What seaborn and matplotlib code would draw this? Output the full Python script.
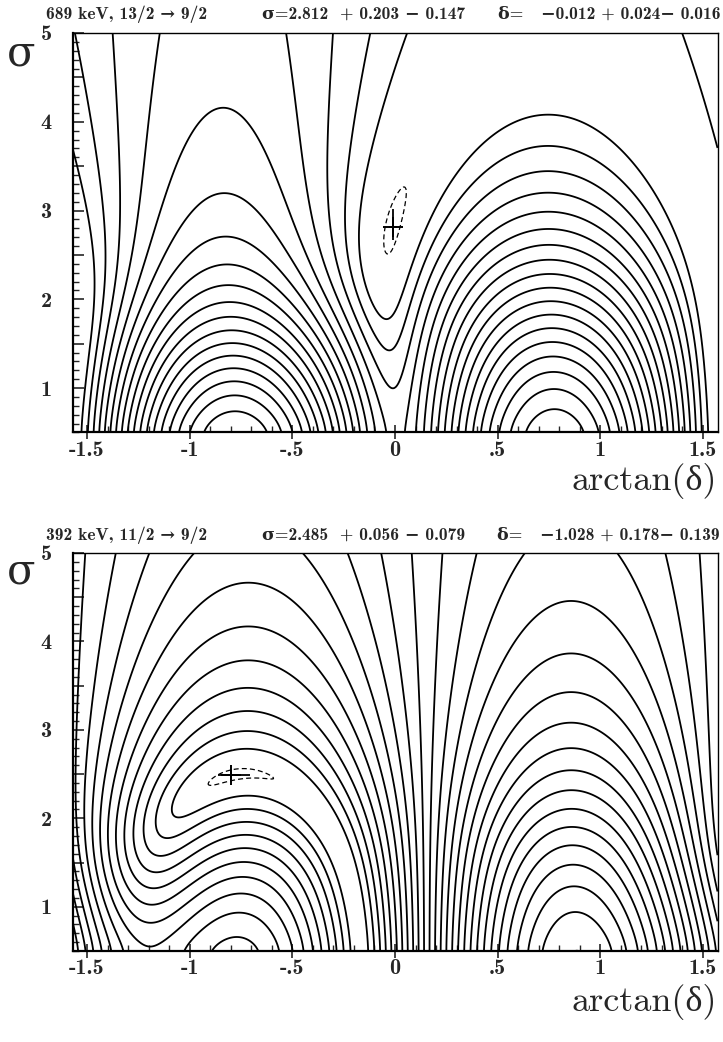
import numpy as np
import matplotlib
matplotlib.use("Agg")
import matplotlib.pyplot as plt
import seaborn as sns
from math import factorial, sqrt

# ---------------- data ----------------
title_transition = ["689 keV, 13/2 \u2192 9/2", "392 keV, 11/2 \u2192 9/2"]
title_sigma = ["\u03c3=2.812  + 0.203 \u2212 0.147", "\u03c3=2.485  + 0.056 \u2212 0.079"]
title_delta = ["\u03b4=   \u22120.012 + 0.024\u2212 0.016", "\u03b4=   \u22121.028 + 0.178\u2212 0.139"]
J_initial = [6.5, 5.5]
J_final = [4.5, 4.5]
L_low = [2, 1]
L_high = [3, 2]
best_sigma = [2.812, 2.485]
sigma_err_plus = [0.203, 0.056]
sigma_err_minus = [0.147, 0.079]
best_delta = [-0.012, -1.028]
delta_err_plus = [0.024, 0.178]
delta_err_minus = [0.016, 0.139]
a2_err = [0.02, 0.02]
a4_err = [0.02, 0.02]
contour_start = [6.3, 4.3]     # in sqrt(chi2)
contour_step = [2.5, 2.7]
error_level = [2.0, 1.0]       # chi2 of dashed error contour
x_ticks = [-1.5, -1.0, -0.5, 0.0, 0.5, 1.0, 1.5]
x_tick_labels = ["-1.5", "-1", "-.5", "0", ".5", "1", "1.5"]
y_ticks = [1.0, 1.5, 2.0, 2.5, 3.0, 3.5, 4.0, 4.5, 5.0]
y_tick_labels = ["1", "", "2", "", "3", "", "4", "", "5"]
sigma_range = (0.5, 5.0)

# ---------------- angular-distribution coefficients ----------------
def f(x): return factorial(int(round(x)))
def tri(a, b, c): return f(a+b-c)*f(a-b+c)*f(-a+b+c)/f(a+b+c+1)
def triok(a, b, c):
    return (c >= abs(a-b)-1e-9) and (c <= a+b+1e-9) and abs((a+b+c)-round(a+b+c)) < 1e-9
def w3j(j1, j2, j3, m1, m2, m3):
    if abs(m1+m2+m3) > 1e-9 or not triok(j1, j2, j3): return 0.0
    if abs(m1) > j1 or abs(m2) > j2 or abs(m3) > j3: return 0.0
    pre = (-1)**int(round(j1-j2-m3))*sqrt(tri(j1, j2, j3)*f(j1+m1)*f(j1-m1)*f(j2+m2)*f(j2-m2)*f(j3+m3)*f(j3-m3))
    tmin = int(round(max(0, j2-j3-m1, j1-j3+m2))); tmax = int(round(min(j1+j2-j3, j1-m1, j2+m2)))
    s = 0.0
    for t in range(tmin, tmax+1):
        s += (-1)**t/(f(t)*f(j3-j2+t+m1)*f(j3-j1+t-m2)*f(j1+j2-j3-t)*f(j1-t-m1)*f(j2-t+m2))
    return pre*s
def w6j(j1, j2, j3, j4, j5, j6):
    if not (triok(j1, j2, j3) and triok(j1, j5, j6) and triok(j4, j2, j6) and triok(j4, j5, j3)): return 0.0
    pre = sqrt(tri(j1, j2, j3)*tri(j1, j5, j6)*tri(j4, j2, j6)*tri(j4, j5, j3))
    a = [j1+j2+j3, j1+j5+j6, j4+j2+j6, j4+j5+j3]
    b = [j1+j2+j4+j5, j2+j3+j5+j6, j3+j1+j6+j4]
    s = 0.0
    for t in range(int(round(max(a))), int(round(min(b)))+1):
        s += (-1)**t*f(t+1)/(f(t-a[0])*f(t-a[1])*f(t-a[2])*f(t-a[3])*f(b[0]-t)*f(b[1]-t)*f(b[2]-t))
    return pre*s
def Fk(k, L1, L2, Jf, Ji):
    return (-1)**int(round(Jf+Ji-1))*sqrt((2*k+1)*(2*L1+1)*(2*L2+1)*(2*Ji+1))*w3j(L1, L2, k, 1, -1, 0)*w6j(L1, L2, k, Ji, Ji, Jf)
def Bk(k, J, sig):
    sig = np.atleast_1d(sig)
    ms = np.arange(-J, J+1)
    rho = np.array([(-1)**int(round(J-m))*sqrt(2*k+1)*w3j(J, J, k, m, -m, 0) for m in ms])
    w = np.exp(-ms[None, :]**2/(2*sig[:, None]**2)); w /= w.sum(1, keepdims=True)
    return sqrt(2*J+1)*(w*rho).sum(1)
def Ak(k, L1, L2, Jf, Ji, x):
    c, s = np.cos(x), np.sin(x)
    return Fk(k, L1, L1, Jf, Ji)*c*c + 2*Fk(k, L1, L2, Jf, Ji)*s*c + Fk(k, L2, L2, Jf, Ji)*s*s

# ---------------- figure ----------------
sns.set_style("ticks")
W, H = 723, 1042
fig = plt.figure(figsize=(W/100, H/100), dpi=100)
axes_boxes = [[72.5/W, 1-432.4/H, 645/W, 399.4/H], [72.5/W, 1-951/H, 645/W, 398/H]]
title_y = [14, 535]
sigma_lab_y = [53, 572]
xlab_base = [490, 1011]
tick_font = dict(family=["cmb10", "DejaVu Serif"], size=16)
title_font = dict(family=["cmb10", "DejaVu Serif"], size=12.6, weight="bold")

xs = np.linspace(-np.pi/2, np.pi/2, 500)
ys = np.linspace(sigma_range[0], sigma_range[1], 500)
XX, YY = np.meshgrid(xs, ys)

for i in range(2):
    ax = fig.add_axes(axes_boxes[i])
    Ji, Jf, L1, L2 = J_initial[i], J_final[i], L_low[i], L_high[i]
    B2 = Bk(2, Ji, ys); B4 = Bk(4, Ji, ys)
    A2 = Ak(2, L1, L2, Jf, Ji, xs); A4 = Ak(4, L1, L2, Jf, Ji, xs)
    x0 = np.arctan(best_delta[i])
    a2 = Bk(2, Ji, best_sigma[i])[0]*Ak(2, L1, L2, Jf, Ji, x0)
    a4 = Bk(4, Ji, best_sigma[i])[0]*Ak(4, L1, L2, Jf, Ji, x0)
    Z = ((B2[:, None]*A2[None, :]-a2)/a2_err[i])**2 + ((B4[:, None]*A4[None, :]-a4)/a4_err[i])**2
    smax = np.sqrt(Z.max())
    lev = contour_start[i] + contour_step[i]*np.arange(0, 200)
    lev = lev[lev < smax]**2
    ax.contour(xs, ys, Z, levels=lev, colors="k", linewidths=1.3)
    near = (np.abs(XX - x0) < 0.5) & (np.abs(YY - best_sigma[i]) < 1.0)
    ax.contour(xs, ys, np.where(near, Z, np.nan), levels=[error_level[i]], colors="k",
               linewidths=0.9, linestyles=[(0, (4, 2.5))])
    # best fit with errors
    xe_lo = x0 - np.arctan(best_delta[i]-delta_err_minus[i])
    xe_hi = np.arctan(best_delta[i]+delta_err_plus[i]) - x0
    ax.errorbar([x0], [best_sigma[i]], xerr=[[xe_lo], [xe_hi]],
                yerr=[[sigma_err_minus[i]], [sigma_err_plus[i]]], fmt="none", ecolor="k", elinewidth=1.3)
    sns.scatterplot(x=[x0], y=[best_sigma[i]], marker="+", s=200, color="k", linewidth=1.4, ax=ax, zorder=5)

    ax.set_xlim(-np.pi/2, np.pi/2)
    ax.set_ylim(*sigma_range)
    ax.set_xticks(x_ticks)
    ax.set_xticklabels(x_tick_labels, fontdict=tick_font)
    ax.set_xticks(np.arange(-1.5, 1.51, 0.1), minor=True)
    ax.set_yticks(y_ticks)
    ax.set_yticklabels(y_tick_labels, fontdict=tick_font)
    ax.set_yticks(np.arange(0.5, 5.01, 0.1), minor=True)
    ax.tick_params(axis="x", which="major", direction="inout", length=10, width=1.2, pad=1, top=False)
    ax.tick_params(axis="x", which="minor", direction="in", length=4, width=1.0, top=False)
    ax.tick_params(axis="y", which="major", direction="in", length=8, width=1.2, pad=15, right=False)
    ax.tick_params(axis="y", which="minor", direction="in", length=4.5, width=1.0, right=False)
    for sp in ax.spines.values():
        sp.set_visible(True); sp.set_color("k")
    ax.spines["left"].set_linewidth(1.6); ax.spines["bottom"].set_linewidth(1.6)
    ax.spines["top"].set_linewidth(1.0); ax.spines["right"].set_linewidth(1.0)
    ax.set_xlabel(""); ax.set_ylabel("")

    ty = 1 - title_y[i]/H
    fig.text(46/W, ty, title_transition[i], ha="left", va="center", **title_font)
    fig.text(262/W, ty, title_sigma[i], ha="left", va="center", **title_font)
    fig.text(720/W, ty, title_delta[i], ha="right", va="center", **title_font)
    fig.text(21/W, 1 - sigma_lab_y[i]/H, "\u03c3", ha="center", va="center",
             family="DejaVu Serif", fontsize=30)
    fig.text(717/W, 1 - xlab_base[i]/H, "arctan(\u03b4)", ha="right", va="baseline",
             family=["cmr10", "Liberation Serif"], fontsize=26)

fig.savefig("out.png", dpi=100)
